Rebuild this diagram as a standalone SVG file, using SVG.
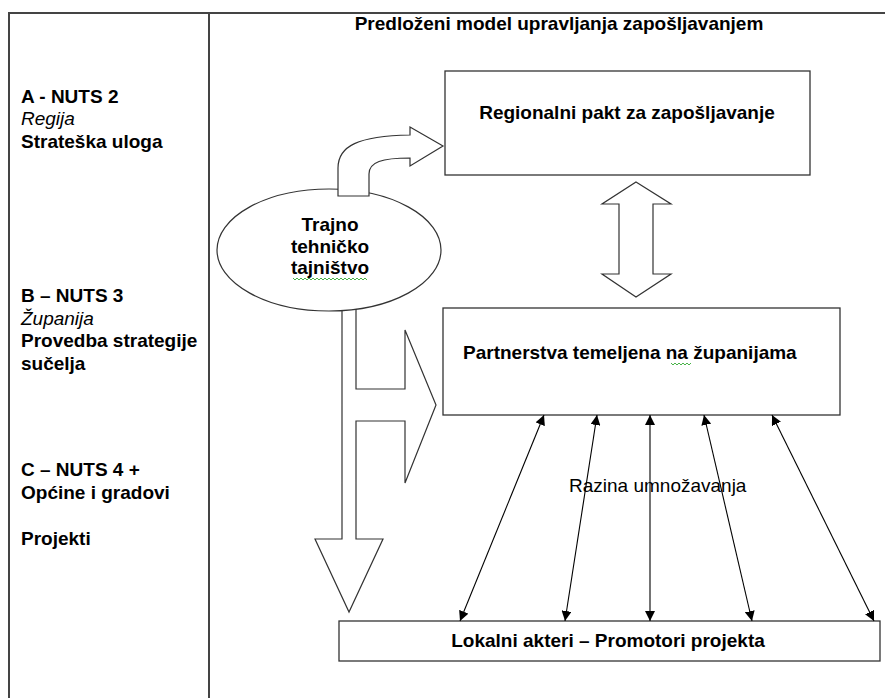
<svg xmlns="http://www.w3.org/2000/svg" width="885" height="698" viewBox="0 0 885 698">
<style>
.frame{stroke:#444;stroke-width:2;fill:none}
.box{fill:#fff;stroke:#333;stroke-width:1.3}
.shape{fill:#fff;stroke:#333;stroke-width:1.2;stroke-linejoin:miter}
.t{font-family:"Liberation Sans",Arial,sans-serif;font-size:19px;fill:#000}
.b{font-weight:bold}
.i{font-style:italic}
.m{text-anchor:middle}
.link{stroke:#000;stroke-width:1.1;fill:none;marker-start:url(#ah);marker-end:url(#ah)}
.sq{stroke:#3a3;stroke-width:0.9;fill:none}
</style>
<defs>
<marker id="ah" viewBox="0 0 10 10" refX="10" refY="5" markerWidth="10" markerHeight="10" markerUnits="userSpaceOnUse" orient="auto-start-reverse">
<path d="M0,0 L10,5 L0,10 Z" fill="#000"/>
</marker>
</defs>
<rect width="885" height="698" fill="#fff"/>
<g id="frame">
<line class="frame" x1="8" y1="13" x2="885" y2="13"/>
<line class="frame" x1="9" y1="13" x2="9" y2="698"/>
<line class="frame" x1="209" y1="13" x2="209" y2="698"/>
</g>
<g id="title">
<text class="t b m" x="559" y="30">Predloženi model upravljanja zapošljavanjem</text>
</g>
<g id="levels">
<text class="t b" x="21" y="103">A - NUTS 2</text>
<text class="t i" x="21" y="125">Regija</text>
<text class="t b" x="21" y="148">Strateška uloga</text>
<text class="t b" x="21" y="302">B – NUTS 3</text>
<text class="t i" x="21" y="325">Županija</text>
<text class="t b" x="21" y="347">Provedba strategije</text>
<text class="t b" x="21" y="370">sučelja</text>
<text class="t b" x="21" y="476">C – NUTS 4 +</text>
<text class="t b" x="21" y="499">Općine i gradovi</text>
<text class="t b" x="21" y="545">Projekti</text>
</g>
<g id="down-arrow">
<path class="shape" d="M342,305 L342,539 L315,539 L349,612 L383,539 L356,539 L356,421 L405,421 L405,483 L436,405 L405,330 L405,389 L356,389 L356,305 Z"/>
</g>
<g id="secretariat">
<ellipse class="shape" cx="329" cy="250" rx="112" ry="61"/>
<text class="t b m" x="330" y="231">Trajno</text>
<text class="t b m" x="330" y="253">tehničko</text>
<text class="t b m" x="330" y="274">tajništvo</text>
<path class="sq" d="M293,278 l2,2 l2,-2 l2,2 l2,-2 l2,2 l2,-2 l2,2 l2,-2 l2,2 l2,-2 l2,2 l2,-2 l2,2 l2,-2 l2,2 l2,-2 l2,2 l2,-2 l2,2 l2,-2 l2,2 l2,-2 l2,2 l2,-2 l2,2 l2,-2 l2,2 l2,-2 l2,2 l2,-2 l2,2 l2,-2 l2,2 l2,-2 l2,2 l2,-2 l2,2"/>
</g>
<g id="curved-arrow">
<path class="shape" d="M338,196 L338,168 C338,146 358,136 410,135 L410,127 L443,146 L410,166 L410,158 C382,158 369,162 369,174 L369,196 Z"/>
</g>
<g id="regional">
<rect class="box" x="445" y="71" width="365" height="104"/>
<text class="t b m" x="627" y="119">Regionalni pakt za zapošljavanje</text>
</g>
<g id="double-arrow">
<path class="shape" d="M636,182 L671,204 L653,204 L653,274 L671,274 L636,297 L602,274 L619,274 L619,204 L602,204 Z"/>
</g>
<g id="partnerships">
<rect class="box" x="443" y="308" width="397" height="107"/>
<text class="t b" x="463" y="359">Partnerstva temeljena na županijama</text>
<path class="sq" d="M671,363 l2,2 l2,-2 l2,2 l2,-2 l2,2 l2,-2 l2,2 l2,-2 l2,2 l2,-2"/>
</g>
<g id="local">
<rect class="box" x="339" y="621" width="541" height="40"/>
<text class="t b m" x="608" y="647">Lokalni akteri – Promotori projekta</text>
</g>
<g id="connectors">
<line class="link" x1="544" y1="415" x2="460" y2="621"/>
<line class="link" x1="597" y1="415" x2="565" y2="621"/>
<line class="link" x1="650" y1="415" x2="650" y2="621"/>
<line class="link" x1="704" y1="415" x2="752" y2="621"/>
<line class="link" x1="772" y1="415" x2="874" y2="621"/>
</g>
<g id="label">
<text class="t" x="569" y="492">Razina umnožavanja</text>
</g>
</svg>
